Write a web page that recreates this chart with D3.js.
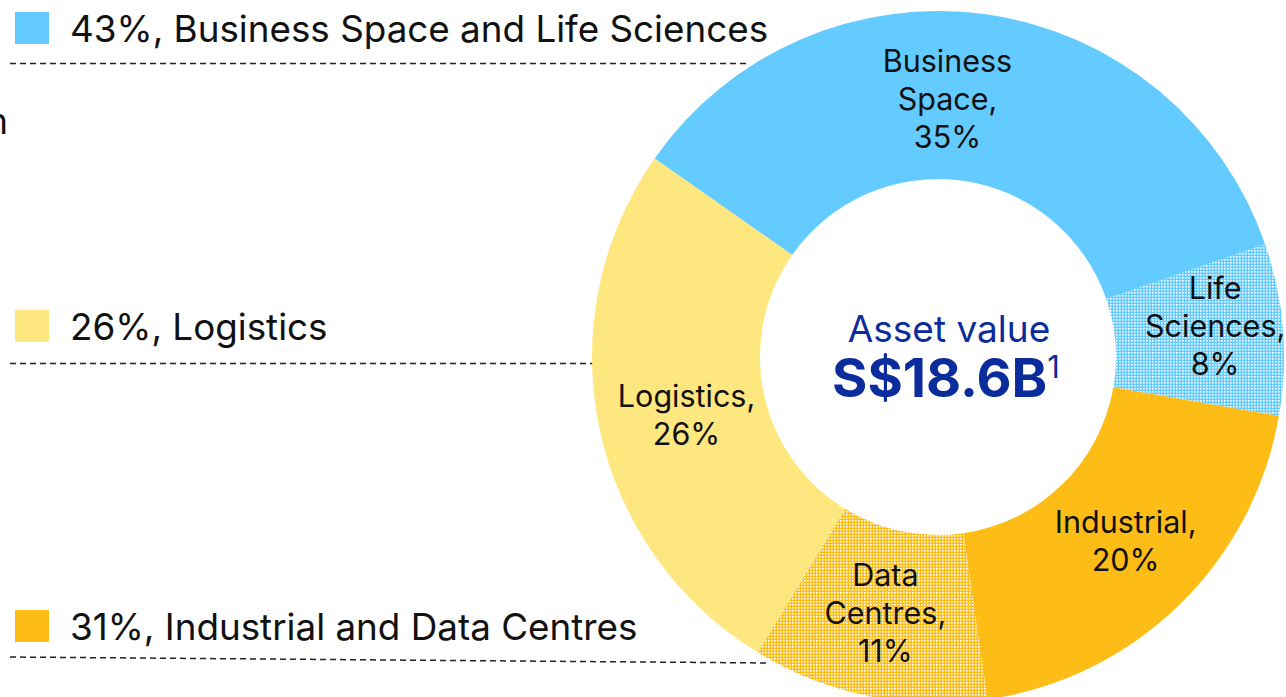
<!DOCTYPE html>
<html lang="en">
<head>
<meta charset="UTF-8">
<title>Asset value by segment</title>
<script src="https://d3js.org/d3.v7.min.js"></script>
<style>
  body { margin: 0; background: #fff; }
  text { font-family: Inter, "Noto Sans", sans-serif; }
</style>
</head>
<body>
<svg id="chart" width="1286" height="697"></svg>
<script>
// slices, clockwise from the Business Space slice
const segments = ["Business Space", "Life Sciences", "Industrial", "Data Centres", "Logistics"];
const shares = [35, 8, 20, 11, 26];
const segLabels = [["Business", "Space,", "35%"], ["Life", "Sciences,", "8%"], ["Industrial,", "20%"], ["Data", "Centres,", "11%"], ["Logistics,", "26%"]];

// legend groups
const groupNames = ["Business Space and Life Sciences", "Logistics", "Industrial and Data Centres"];
const groupShares = [43, 26, 31];

const totalLabel = "Asset value";
const totalValue = "S$18.6B";
const totalNote = "1";

const blue = "#63cbff", lightYellow = "#ffe780", orange = "#febd16";
const fills = ["blue", "blueDots", "orange", "orangeDots", "lightYellow"];
const groupColors = [blue, lightYellow, orange];

const svg = d3.select("#chart");
const defs = svg.append("defs");

function dots(id, color) {
  const p = defs.append("pattern").attr("id", id)
    .attr("width", 3).attr("height", 3).attr("patternUnits", "userSpaceOnUse");
  p.append("rect").attr("width", 3).attr("height", 3).attr("fill", color);
  p.append("rect").attr("x", 1).attr("y", 1).attr("width", 1.6).attr("height", 1.6).attr("fill", "#fff");
}
dots("blueDots", blue);
dots("orangeDots", orange);

const fillFor = { blue: blue, orange: orange, lightYellow: lightYellow, blueDots: "url(#blueDots)", orangeDots: "url(#orangeDots)" };

// donut
const cx = 938, cy = 357, rOuter = 346, rInner = 178;
const pie = d3.pie().sort(null).value(d => d)
  .startAngle(-55 * Math.PI / 180).endAngle(305 * Math.PI / 180);
const arcs = pie(shares);
const arc = d3.arc().innerRadius(rInner).outerRadius(rOuter);
const labelArc = d3.arc().innerRadius(262).outerRadius(262);

// dashed leader lines under legend rows (drawn first, donut sits on top)
const lines = svg.append("g");
lines.append("line").attr("x1", 10).attr("y1", 63.5).attr("x2", 747).attr("y2", 63.5);
lines.append("line").attr("x1", 10).attr("y1", 363.5).attr("x2", 600).attr("y2", 363.5);
lines.append("line").attr("x1", 10).attr("y1", 657).attr("x2", 770).attr("y2", 663);
lines.selectAll("line").attr("stroke", "#222").attr("stroke-width", 1.5).attr("stroke-dasharray", "6,4");

const g = svg.append("g").attr("transform", `translate(${cx},${cy})`);
g.selectAll("path.slice").data(arcs).enter().append("path")
  .attr("class", "slice")
  .attr("d", arc)
  .attr("fill", (d, i) => fillFor[fills[i]]);

// small nudges where the source placed labels off the centroid
const nudge = [[-27, 2], [16, -9], [5, -3], [0, 0], [5, 5]];
const lineH = 38;
g.selectAll("text.seg").data(arcs).enter().append("text")
  .attr("class", "seg")
  .attr("text-anchor", "middle")
  .attr("font-size", 30.5)
  .attr("fill", "#111")
  .each(function (d, i) {
    const c = labelArc.centroid(d);
    const lines = segLabels[i];
    const x = c[0] + nudge[i][0];
    const y0 = c[1] + nudge[i][1] - (lines.length - 1) * lineH / 2 + 10;
    const t = d3.select(this);
    lines.forEach((s, k) => {
      t.append("tspan").attr("x", x).attr("y", y0 + k * lineH).text(s);
    });
  });

// centre text
const navy = "#0a2c9c";
g.append("text").attr("x", 11).attr("y", -15).attr("text-anchor", "middle")
  .attr("font-size", 37).attr("fill", navy).text(totalLabel);
const big = g.append("text").attr("x", 8).attr("y", 40).attr("text-anchor", "middle")
  .attr("font-size", 54).attr("font-weight", 700).attr("fill", navy);
big.append("tspan").text(totalValue);
big.append("tspan").attr("font-size", 31).attr("font-weight", 400).attr("dy", -19).text(totalNote);

// legend
const legY = [12, 310, 610];
const leg = svg.append("g").selectAll("g").data(groupNames).enter().append("g")
  .attr("transform", (d, i) => `translate(15,${legY[i]})`);
leg.append("rect").attr("width", 34).attr("height", 32).attr("fill", (d, i) => groupColors[i]);
leg.append("text").attr("x", 55).attr("y", 30).attr("font-size", 36.8).attr("fill", "#111")
  .text((d, i) => `${groupShares[i]}%, ${d}`);

// cut-off word at the left edge
svg.append("text").attr("x", 8).attr("y", 134).attr("text-anchor", "end")
  .attr("font-size", 36).attr("fill", "#111").text("n");
</script>
</body>
</html>
